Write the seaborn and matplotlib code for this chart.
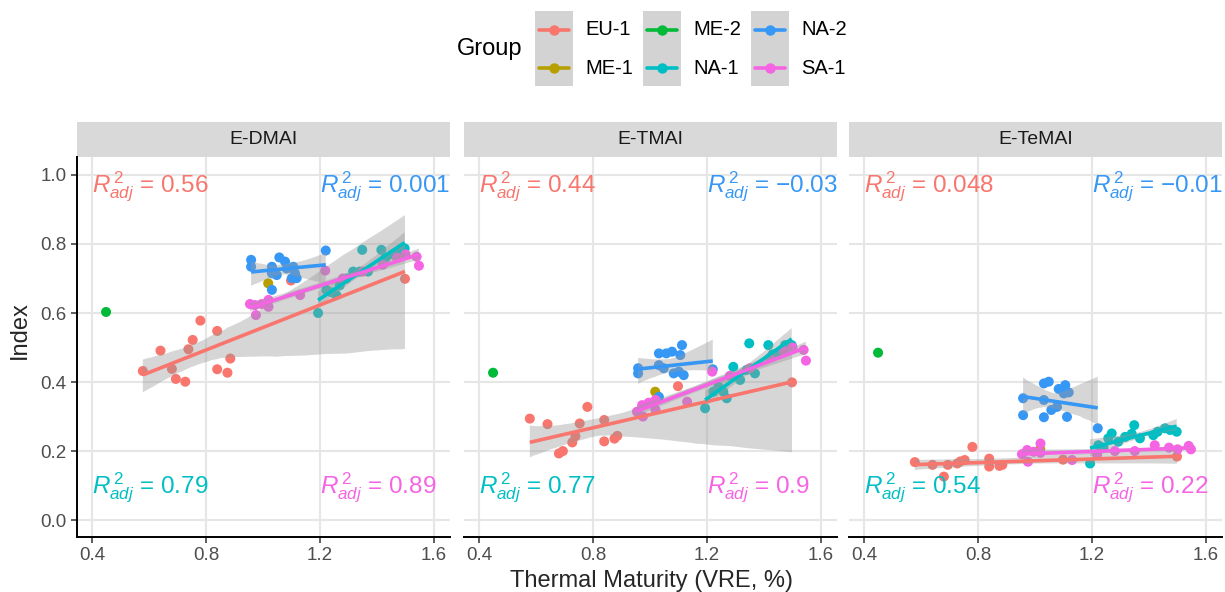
import numpy as np
import pandas as pd
import matplotlib
matplotlib.use("Agg")
import matplotlib.pyplot as plt
import seaborn as sns
from matplotlib.patches import Rectangle
from matplotlib.lines import Line2D
from matplotlib.collections import PolyCollection

# ---------------- data ----------------
groups = ["EU-1", "ME-1", "ME-2", "NA-1", "NA-2", "SA-1"]
colors = ["#F8766D", "#B79F00", "#00BA38", "#00BFC4", "#3797F5", "#F564E3"]
panels = ["E-DMAI", "E-TMAI", "E-TeMAI"]

eu_x = [0.578, 0.640, 0.680, 0.694, 0.727, 0.738, 0.753, 0.780, 0.839, 0.839, 0.875, 0.885, 1.098, 1.498]
eu_dmai = [0.432, 0.491, 0.438, 0.409, 0.401, 0.495, 0.522, 0.578, 0.548, 0.437, 0.427, 0.468, 0.694, 0.699]
eu_tmai = [0.294, 0.278, 0.193, 0.200, 0.225, 0.243, 0.280, 0.328, 0.290, 0.228, 0.236, 0.244, 0.388, 0.399]
eu_temai = [0.168, 0.160, 0.126, 0.160, 0.164, 0.170, 0.174, 0.212, 0.178, 0.155, 0.157, 0.160, 0.175, 0.184]

me1_x = [1.018]
me1_dmai = [0.686]
me1_tmai = [0.372]
me1_temai = [0.206]

me2_x = [0.449]
me2_dmai = [0.603]
me2_tmai = [0.427]
me2_temai = [0.485]

na1_x = [1.193, 1.222, 1.240, 1.257, 1.269, 1.292, 1.316, 1.339, 1.348, 1.368, 1.415, 1.430, 1.456, 1.474, 1.497]
na1_dmai = [0.600, 0.667, 0.660, 0.652, 0.680, 0.700, 0.720, 0.720, 0.783, 0.720, 0.783, 0.760, 0.770, 0.775, 0.787]
na1_tmai = [0.324, 0.372, 0.386, 0.372, 0.353, 0.444, 0.406, 0.435, 0.512, 0.425, 0.507, 0.480, 0.483, 0.507, 0.507]
na1_temai = [0.164, 0.217, 0.210, 0.237, 0.251, 0.227, 0.241, 0.250, 0.275, 0.237, 0.246, 0.256, 0.266, 0.261, 0.256]

na2_x = [0.958, 0.958, 1.031, 1.031, 1.031, 1.048, 1.057, 1.077, 1.083, 1.101, 1.106, 1.112, 1.118, 1.220]
na2_dmai = [0.754, 0.734, 0.734, 0.715, 0.667, 0.710, 0.761, 0.749, 0.729, 0.701, 0.734, 0.715, 0.701, 0.781]
na2_tmai = [0.440, 0.425, 0.483, 0.449, 0.357, 0.440, 0.483, 0.488, 0.425, 0.430, 0.478, 0.507, 0.420, 0.437]
na2_temai = [0.353, 0.304, 0.396, 0.348, 0.298, 0.401, 0.319, 0.328, 0.380, 0.367, 0.391, 0.299, 0.370, 0.266]

sa1_x = [0.954, 0.972, 0.975, 0.995, 1.019, 1.019, 1.130, 1.218, 1.280, 1.350, 1.420, 1.470, 1.500, 1.539, 1.547]
sa1_dmai = [0.626, 0.623, 0.594, 0.626, 0.638, 0.618, 0.652, 0.723, 0.700, 0.720, 0.740, 0.760, 0.770, 0.763, 0.737]
sa1_tmai = [0.314, 0.333, 0.300, 0.340, 0.348, 0.320, 0.343, 0.430, 0.418, 0.440, 0.470, 0.490, 0.500, 0.493, 0.462]
sa1_temai = [0.191, 0.203, 0.169, 0.198, 0.222, 0.195, 0.174, 0.190, 0.200, 0.200, 0.217, 0.210, 0.205, 0.215, 0.205]

# adjusted R^2 labels per panel
r2_eu = ["0.56", "0.44", "0.048"]
r2_na2 = ["0.0013", "\u22120.03", "\u22120.01"]
r2_na1 = ["0.79", "0.77", "0.54"]
r2_sa1 = ["0.89", "0.9", "0.22"]

x_ticks = [0.4, 0.8, 1.2, 1.6]
y_ticks = [0.0, 0.2, 0.4, 0.6, 0.8, 1.0]

# ---------------- build long table ----------------
series = {
    "EU-1": (eu_x, eu_dmai, eu_tmai, eu_temai),
    "ME-1": (me1_x, me1_dmai, me1_tmai, me1_temai),
    "ME-2": (me2_x, me2_dmai, me2_tmai, me2_temai),
    "NA-1": (na1_x, na1_dmai, na1_tmai, na1_temai),
    "NA-2": (na2_x, na2_dmai, na2_tmai, na2_temai),
    "SA-1": (sa1_x, sa1_dmai, sa1_tmai, sa1_temai),
}
rows = []
for g, (xs, *ys) in series.items():
    for p, yv in zip(panels, ys):
        for xv, v in zip(xs, yv):
            rows.append({"Group": g, "Index": p, "VRE": xv, "Value": v})
df = pd.DataFrame(rows)
palette = dict(zip(groups, colors))

# ---------------- style ----------------
sns.set_style("white")
plt.rcParams["font.family"] = ["Liberation Sans", "DejaVu Sans"]
plt.rcParams["mathtext.fontset"] = "custom"
plt.rcParams["mathtext.rm"] = "Liberation Sans"
plt.rcParams["mathtext.it"] = "Liberation Sans:italic"

W, H = 1225, 592
fig = plt.figure(figsize=(W / 100, H / 100), dpi=100)

left_px = [77, 464, 849]
panel_w = 373
top_px, bot_px = 157, 537
strip_h = 35
xlim = (0.347, 1.656)
ylim = (-0.049, 1.052)

label_sets = [
    (r2_eu, "EU-1", 0.4, 0.948),
    (r2_na2, "NA-2", 1.2, 0.948),
    (r2_na1, "NA-1", 0.4, 0.078),
    (r2_sa1, "SA-1", 1.2, 0.078),
]

for i, p in enumerate(panels):
    ax = fig.add_axes([left_px[i] / W, 1 - bot_px / H, panel_w / W, (bot_px - top_px) / H])
    sub = df[df["Index"] == p]
    ax.set_xlim(*xlim)
    ax.set_ylim(*ylim)
    ax.set_xticks(x_ticks)
    ax.set_yticks(y_ticks)
    ax.grid(True, color="#E6E6E6", linewidth=1.5)
    ax.set_axisbelow(True)
    for s in ["top", "right"]:
        ax.spines[s].set_visible(False)
    ax.spines["bottom"].set_color("black")
    ax.spines["bottom"].set_linewidth(1.4)
    if i == 0:
        ax.spines["left"].set_color("black")
        ax.spines["left"].set_linewidth(1.4)
        ax.tick_params(axis="y", left=True, length=4, width=1.1, color="#333333",
                       labelsize=13.5, labelcolor="#4D4D4D")
        ax.set_yticklabels([f"{v:.1f}" for v in y_ticks])
    else:
        ax.spines["left"].set_visible(False)
        ax.tick_params(axis="y", left=False, labelleft=False)
    ax.tick_params(axis="x", bottom=True, length=4, width=1.1, color="#333333",
                   labelsize=13.5, labelcolor="#4D4D4D", pad=3)
    ax.set_xticklabels([f"{v:.1f}" for v in x_ticks])

    sns.scatterplot(data=sub, x="VRE", y="Value", hue="Group", hue_order=groups,
                    palette=palette, s=52, linewidth=0, legend=False, ax=ax, zorder=3)
    for g in groups:
        gsub = sub[sub["Group"] == g]
        if len(gsub) < 3:
            continue
        n_before = len(ax.collections)
        sns.regplot(data=gsub, x="VRE", y="Value", scatter=False, ax=ax,
                    color=palette[g], ci=95, seed=3, n_boot=1000, truncate=True,
                    line_kws=dict(linewidth=2.6, zorder=5, solid_capstyle="butt"))
        for c in ax.collections[n_before:]:
            if isinstance(c, PolyCollection):
                c.set_facecolor("#999999")
                c.set_alpha(0.4)
                c.set_edgecolor("none")
                c.set_zorder(4)
    ax.set_xlabel("")
    ax.set_ylabel("")

    for vals, g, tx, ty in label_sets:
        ax.text(tx, ty, r"$R^{\,2}_{adj}$" + " = " + vals[i], color=palette[g],
                fontsize=17.5, ha="left", va="baseline", clip_on=True, zorder=6)

    # strip
    ax.add_patch(Rectangle((0, 1), 1, strip_h / (bot_px - top_px), transform=ax.transAxes,
                           facecolor="#D9D9D9", edgecolor="none", clip_on=False))
    ax.text(0.5, 1 + strip_h / 2 / (bot_px - top_px), p, transform=ax.transAxes,
            ha="center", va="center", fontsize=14, color="#1A1A1A")

fig.text(20 / W, 1 - 330 / H, "Index", rotation=90, ha="center", va="center", fontsize=17)
fig.text(651 / W, 1 - 570 / H, "Thermal Maturity (VRE, %)", ha="center", va="top", fontsize=17)

# ---------------- legend ----------------
lax = fig.add_axes([0, 0, 1, 1], zorder=10)
lax.set_xlim(0, W)
lax.set_ylim(H, 0)
lax.axis("off")
lax.text(457, 49, "Group", fontsize=17, ha="left", va="center", color="black")
col_x = [535, 643, 751]
row_y = [29.5, 68]
for k, g in enumerate(groups):
    c, r = k // 2, k % 2
    x0 = col_x[c]
    if r == 0:
        lax.add_patch(Rectangle((x0, 10.5), 38, 75, facecolor="#D3D3D3", edgecolor="none"))
    lax.add_line(Line2D([x0 + 4, x0 + 34], [row_y[r], row_y[r]], color=palette[g], linewidth=2.6))
    lax.plot([x0 + 19], [row_y[r]], "o", color=palette[g], markersize=6.5)
    lax.text(x0 + 50, row_y[r], g, fontsize=14.5, ha="left", va="center", color="black")

fig.savefig("out.png", dpi=100)
